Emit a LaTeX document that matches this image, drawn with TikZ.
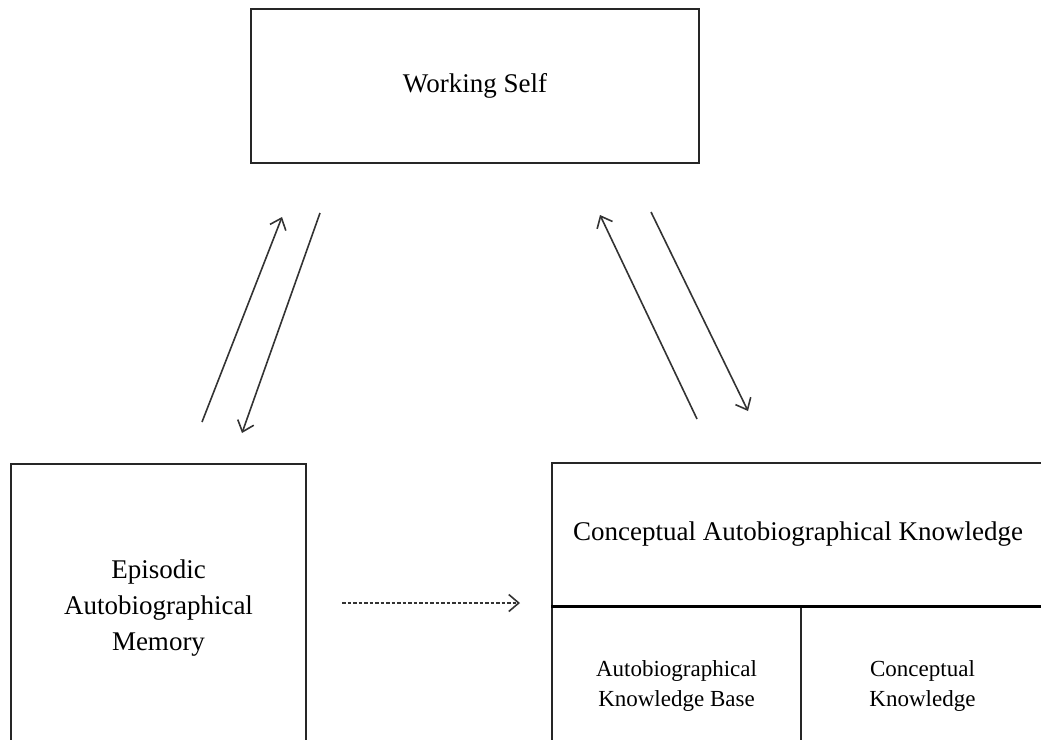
\documentclass[tikz,border=0pt]{standalone}
\usepackage{fontspec}
\setmainfont{Liberation Serif}
\usetikzlibrary{arrows.meta}
\begin{document}
\begin{tikzpicture}[x=1pt,y=-1pt,
  box/.style={draw=black!85,line width=1.5pt,rectangle,inner sep=0pt,align=center},
  txt/.style={font=\fontsize{27}{36}\selectfont},
  small/.style={font=\fontsize{23}{30}\selectfont},
  arr/.style={line width=1.6pt,draw=black!80,-{Straight Barb[length=10pt,width=17pt]}},
  darr/.style={arr,dash pattern=on 3.5pt off 2pt}]
\useasboundingbox (0,0) rectangle (1041,739);
\clip (0,0) rectangle (1041,739);
\node[box,txt,minimum width=448pt,minimum height=154pt] (ws) at (475,86) {Working Self};
\node[box,txt,minimum width=295pt,minimum height=288pt] (em) at (158.5,608) {Episodic\\Autobiographical\\Memory};
\node[box,txt,minimum width=492pt,minimum height=143pt] (cak) at (798,534.5) {Conceptual Autobiographical Knowledge};
\node[box,small,minimum width=249pt,minimum height=160pt] (akb) at (676.5,686) {Autobiographical\\Knowledge Base};
\node[box,small,minimum width=243pt,minimum height=160pt] (ck) at (922.5,686) {Conceptual\\Knowledge};
\draw[line width=2.6pt] (cak.south west) -- (cak.south east);
\coordinate (a1s) at (202,422); \coordinate (a1e) at (282,217);
\coordinate (a2s) at (320,213); \coordinate (a2e) at (242,433);
\coordinate (a3s) at (697,419); \coordinate (a3e) at (600,215);
\coordinate (a4s) at (651,212); \coordinate (a4e) at (748,411);
\coordinate (d1s) at (342,603); \coordinate (d1e) at (520,603);
\draw[arr] (a1s) -- (a1e);
\draw[arr] (a2s) -- (a2e);
\draw[arr] (a3s) -- (a3e);
\draw[arr] (a4s) -- (a4e);
\draw[darr] (d1s) -- (d1e);
\end{tikzpicture}
\end{document}
